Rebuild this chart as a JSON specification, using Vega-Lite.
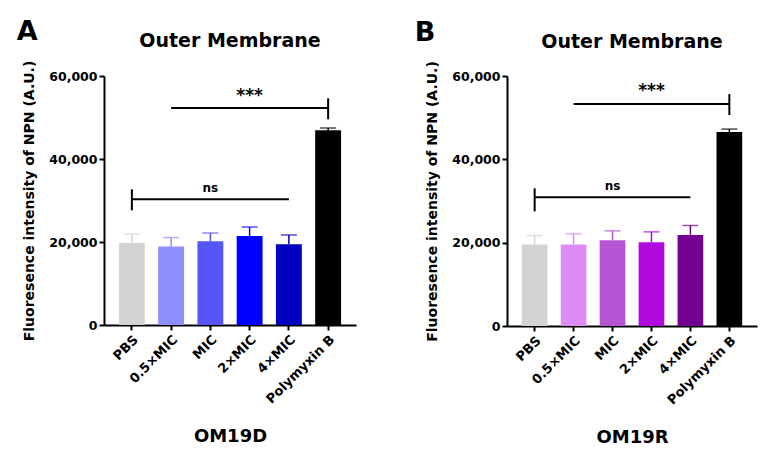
{
  "$schema": "https://vega.github.io/schema/vega-lite/v6.json",
  "background": "white",
  "padding": {"left": 16, "top": 18, "right": 5, "bottom": 5},
  "config": {
    "font": "DejaVu Sans",
    "view": {"stroke": null},
    "axis": {"domainColor": "black", "domainWidth": 2, "tickColor": "black", "tickWidth": 2, "tickSize": 5, "labelColor": "black", "titleColor": "black", "labelFontWeight": "bold", "titleFontWeight": "bold", "grid": false},
    "title": {"fontWeight": "bold", "color": "black"}
  },
  "datasets": {
    "barsA": [
      {"cond": "PBS", "value": 19760, "upper": 21930},
      {"cond": "0.5×MIC", "value": 18890, "upper": 21060},
      {"cond": "MIC", "value": 20170, "upper": 22170},
      {"cond": "2×MIC", "value": 21450, "upper": 23610},
      {"cond": "4×MIC", "value": 19450, "upper": 21690},
      {"cond": "Polymyxin B", "value": 46900, "upper": 47470}
    ],
    "barsB": [
      {"cond": "PBS", "value": 19560, "upper": 21720},
      {"cond": "0.5×MIC", "value": 19560, "upper": 22110},
      {"cond": "MIC", "value": 20590, "upper": 22830},
      {"cond": "2×MIC", "value": 20110, "upper": 22590},
      {"cond": "4×MIC", "value": 21870, "upper": 24120},
      {"cond": "Polymyxin B", "value": 46540, "upper": 47260}
    ],
    "lineA": [
      {"from": "0.5×MIC", "to": "Polymyxin B", "y": 52290},
      {"from": "PBS", "to": "4×MIC", "y": 30290}
    ],
    "capA": [
      {"at": "Polymyxin B", "lo": 49570, "hi": 54630},
      {"at": "PBS", "lo": 27640, "hi": 32700}
    ],
    "textA": [
      {"at": "2×MIC", "y": 55300, "label": "***", "size": "big"},
      {"at": "MIC", "y": 33060, "label": "ns", "size": "small"}
    ],
    "lineB": [
      {"from": "0.5×MIC", "to": "Polymyxin B", "y": 53270},
      {"from": "PBS", "to": "4×MIC", "y": 30920}
    ],
    "capB": [
      {"at": "Polymyxin B", "lo": 50630, "hi": 55670},
      {"at": "PBS", "lo": 27520, "hi": 33050}
    ],
    "textB": [
      {"at": "2×MIC", "y": 56350, "label": "***", "size": "big"},
      {"at": "MIC", "y": 33570, "label": "ns", "size": "small"}
    ]
  },
  "spacing": 58,
  "resolve": {"scale": {"color": "independent"}},
  "hconcat": [
    {
      "title": {"text": "A", "anchor": "start", "fontSize": 27, "dy": 18, "dx": -6},
      "vconcat": [
        {
          "width": 252,
          "height": 249,
          "title": {"text": "Outer Membrane", "fontSize": 19, "anchor": "middle", "offset": 9},
          "encoding": {
            "x": {"field": "cond", "type": "nominal", "sort": ["PBS", "0.5×MIC", "MIC", "2×MIC", "4×MIC", "Polymyxin B"],
                  "scale": {"domain": ["PBS", "0.5×MIC", "MIC", "2×MIC", "4×MIC", "Polymyxin B"], "paddingInner": 0.34, "paddingOuter": 0.38},
                  "axis": {"title": "OM19D", "titleFontSize": 18, "titlePadding": 22, "labelAngle": -45, "labelFontSize": 13, "labelPadding": 3}},
            "y": {"type": "quantitative", "scale": {"domain": [0, 60000], "nice": false},
                  "axis": {"title": "Fluoresence intensity of NPN (A.U.)", "titleFontSize": 14, "titlePadding": 12, "values": [0, 20000, 40000, 60000], "format": ",.0f", "labelFontSize": 12.5, "labelPadding": 2}}
          },
          "layer": [
            {
              "data": {"name": "barsA"},
              "mark": {"type": "bar", "width": {"band": 1}},
              "encoding": {
                "y": {"field": "value", "type": "quantitative"},
                "color": {"field": "cond", "type": "nominal", "legend": null,
                          "scale": {"domain": ["PBS", "0.5×MIC", "MIC", "2×MIC", "4×MIC", "Polymyxin B"], "range": ["#d3d3d3", "#8f8fff", "#5555f8", "#0000ff", "#0000c0", "#000000"]}}
              }
            },
            {
              "data": {"name": "barsA"},
              "mark": {"type": "rule", "strokeWidth": 1.5},
              "encoding": {
                "y": {"field": "value", "type": "quantitative"},
                "y2": {"field": "upper"},
                "color": {"field": "cond", "type": "nominal", "legend": null}
              }
            },
            {
              "data": {"name": "barsA"},
              "mark": {"type": "tick", "size": 16, "thickness": 1.5},
              "encoding": {
                "y": {"field": "upper", "type": "quantitative"},
                "color": {"field": "cond", "type": "nominal", "legend": null}
              }
            },
            {
              "data": {"name": "lineA"},
              "mark": {"type": "rule", "color": "black", "strokeWidth": 2},
              "encoding": {
                "x": {"field": "from", "type": "nominal"},
                "x2": {"field": "to"},
                "y": {"field": "y", "type": "quantitative"}
              }
            },
            {
              "data": {"name": "capA"},
              "mark": {"type": "rule", "color": "black", "strokeWidth": 2},
              "encoding": {
                "x": {"field": "at", "type": "nominal"},
                "y": {"field": "lo", "type": "quantitative"},
                "y2": {"field": "hi"}
              }
            },
            {
              "data": {"name": "textA"},
              "mark": {"type": "text", "fontWeight": "bold", "color": "black", "baseline": "middle"},
              "encoding": {
                "x": {"field": "at", "type": "nominal"},
                "y": {"field": "y", "type": "quantitative"},
                "text": {"field": "label"},
                "size": {"field": "size", "type": "nominal", "legend": null, "scale": {"domain": ["big", "small"], "range": [17, 12]}}
              }
            }
          ]
        }
      ]
    },
    {
      "title": {"text": "B", "anchor": "start", "fontSize": 27, "dy": 18, "dx": -11},
      "vconcat": [
        {
          "width": 250,
          "height": 250,
          "title": {"text": "Outer Membrane", "fontSize": 19, "anchor": "middle", "offset": 9},
          "encoding": {
            "x": {"field": "cond", "type": "nominal", "sort": ["PBS", "0.5×MIC", "MIC", "2×MIC", "4×MIC", "Polymyxin B"],
                  "scale": {"domain": ["PBS", "0.5×MIC", "MIC", "2×MIC", "4×MIC", "Polymyxin B"], "paddingInner": 0.34, "paddingOuter": 0.38},
                  "axis": {"title": "OM19R", "titleFontSize": 18, "titlePadding": 22, "labelAngle": -45, "labelFontSize": 13, "labelPadding": 3}},
            "y": {"type": "quantitative", "scale": {"domain": [0, 60000], "nice": false},
                  "axis": {"title": "Fluoresence intensity of NPN (A.U.)", "titleFontSize": 14, "titlePadding": 12, "values": [0, 20000, 40000, 60000], "format": ",.0f", "labelFontSize": 12.5, "labelPadding": 2}}
          },
          "layer": [
            {
              "data": {"name": "barsB"},
              "mark": {"type": "bar", "width": {"band": 1}},
              "encoding": {
                "y": {"field": "value", "type": "quantitative"},
                "color": {"field": "cond", "type": "nominal", "legend": null,
                          "scale": {"domain": ["PBS", "0.5×MIC", "MIC", "2×MIC", "4×MIC", "Polymyxin B"], "range": ["#d3d3d3", "#dd8cf5", "#b456d4", "#b00ae0", "#720090", "#000000"]}}
              }
            },
            {
              "data": {"name": "barsB"},
              "mark": {"type": "rule", "strokeWidth": 1.5},
              "encoding": {
                "y": {"field": "value", "type": "quantitative"},
                "y2": {"field": "upper"},
                "color": {"field": "cond", "type": "nominal", "legend": null}
              }
            },
            {
              "data": {"name": "barsB"},
              "mark": {"type": "tick", "size": 16, "thickness": 1.5},
              "encoding": {
                "y": {"field": "upper", "type": "quantitative"},
                "color": {"field": "cond", "type": "nominal", "legend": null}
              }
            },
            {
              "data": {"name": "lineB"},
              "mark": {"type": "rule", "color": "black", "strokeWidth": 2},
              "encoding": {
                "x": {"field": "from", "type": "nominal"},
                "x2": {"field": "to"},
                "y": {"field": "y", "type": "quantitative"}
              }
            },
            {
              "data": {"name": "capB"},
              "mark": {"type": "rule", "color": "black", "strokeWidth": 2},
              "encoding": {
                "x": {"field": "at", "type": "nominal"},
                "y": {"field": "lo", "type": "quantitative"},
                "y2": {"field": "hi"}
              }
            },
            {
              "data": {"name": "textB"},
              "mark": {"type": "text", "fontWeight": "bold", "color": "black", "baseline": "middle"},
              "encoding": {
                "x": {"field": "at", "type": "nominal"},
                "y": {"field": "y", "type": "quantitative"},
                "text": {"field": "label"},
                "size": {"field": "size", "type": "nominal", "legend": null, "scale": {"domain": ["big", "small"], "range": [17, 12]}}
              }
            }
          ]
        }
      ]
    }
  ]
}
